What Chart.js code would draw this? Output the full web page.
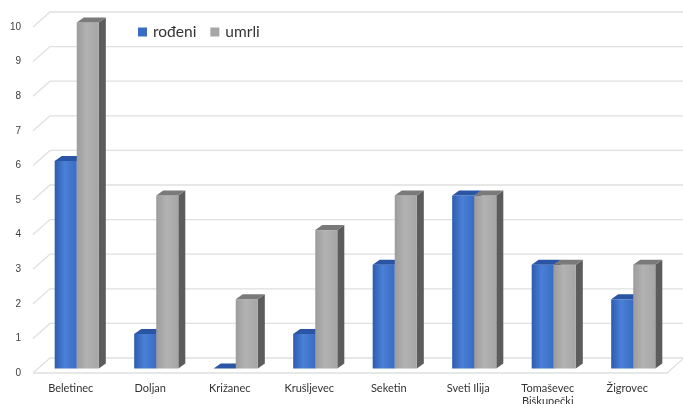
<!DOCTYPE html>
<html>
<head>
<meta charset="utf-8">
<script src="https://cdn.jsdelivr.net/npm/chart.js@4/dist/chart.umd.min.js"></script>
<style>
html,body{margin:0;padding:0;background:#fff;}
#wrap{width:683px;height:404px;position:relative;}
</style>
</head>
<body>
<div id="wrap"><canvas id="c" width="683" height="404"></canvas></div>
<script>
const categories = ["Beletinec", "Doljan", "Križanec", "Krušljevec", "Seketin", "Sveti Ilija", ["Tomaševec", "Biškupečki"], "Žigrovec"];
const rodeni = [6, 1, 0, 1, 3, 5, 3, 2];
const umrli = [10, 5, 2, 4, 5, 5, 3, 3];
const seriesNames = ["rođeni", "umrli"];
const yTicks = [0, 1, 2, 3, 4, 5, 6, 7, 8, 9, 10];

const BAR_OFF = {x: 6, y: -4.5};
const DEPTH = {x: 7, y: -5};
const WALL = {x: 17, y: -15};

const styles = [
  {front: ['#2c5cb0', '#4a80d6', '#3a6cc4'], top: '#2a55a4', side: '#1f4590'},
  {front: ['#9c9c9c', '#b2b2b2', '#a6a6a6'], top: '#7a7a7a', side: '#5c5c5c'}
];

const gridPlugin = {
  id: 'grid3d',
  beforeDatasetsDraw(chart) {
    const ctx = chart.ctx, y = chart.scales.y, a = chart.chartArea;
    ctx.save();
    ctx.strokeStyle = '#e0e0e0';
    ctx.lineWidth = 1.3;
    yTicks.forEach(v => {
      const py = y.getPixelForValue(v);
      ctx.beginPath();
      ctx.moveTo(a.left + 2, py);
      ctx.lineTo(a.left + 2 + WALL.x, py + WALL.y);
      ctx.lineTo(chart.width, py + WALL.y);
      ctx.stroke();
    });
    const p0 = y.getPixelForValue(0);
    ctx.beginPath();
    ctx.moveTo(a.left + 2, p0);
    ctx.lineTo(a.right, p0);
    ctx.lineTo(a.right + WALL.x, p0 + WALL.y);
    ctx.stroke();
    ctx.restore();
  }
};

const bar3dPlugin = {
  id: 'bar3d',
  afterDatasetsDraw(chart) {
    const ctx = chart.ctx;
    const metas = [chart.getDatasetMeta(0), chart.getDatasetMeta(1)];
    ctx.save();
    for (let i = 0; i < categories.length; i++) {
      metas.forEach((meta, di) => {
        const el = meta.data[i];
        const st = styles[di];
        const w = el.width;
        const l = el.x - w / 2 + BAR_OFF.x;
        const r = l + w;
        const t = el.y + BAR_OFF.y;
        const b = el.base + BAR_OFF.y;
        ctx.fillStyle = st.side;
        ctx.beginPath();
        ctx.moveTo(r, b); ctx.lineTo(r, t);
        ctx.lineTo(r + DEPTH.x, t + DEPTH.y); ctx.lineTo(r + DEPTH.x, b + DEPTH.y);
        ctx.closePath(); ctx.fill();
        if (b - t > 0.5) {
          const g = ctx.createLinearGradient(l, 0, r, 0);
          g.addColorStop(0, st.front[0]);
          g.addColorStop(0.45, st.front[1]);
          g.addColorStop(1, st.front[2]);
          ctx.fillStyle = g;
          ctx.fillRect(l, t, w, b - t);
        }
        ctx.fillStyle = st.top;
        ctx.beginPath();
        ctx.moveTo(l, t); ctx.lineTo(r, t);
        ctx.lineTo(r + DEPTH.x, t + DEPTH.y); ctx.lineTo(l + DEPTH.x, t + DEPTH.y);
        ctx.closePath(); ctx.fill();
      });
    }
    ctx.restore();
  }
};

const legendPlugin = {
  id: 'customLegend',
  afterDraw(chart) {
    const ctx = chart.ctx;
    ctx.save();
    ctx.font = '15.5px Lato, "Open Sans", sans-serif';
    ctx.textBaseline = 'middle';
    const cy = 32;
    let x = 138;
    const sqc = ['#3a6cc4', '#a6a6a6'];
    seriesNames.forEach((n, i) => {
      ctx.fillStyle = sqc[i];
      ctx.fillRect(x, cy - 4.5, 9, 9);
      ctx.fillStyle = '#333333';
      ctx.fillText(n, x + 15, cy);
      x += 15 + ctx.measureText(n).width + 14;
    });
    ctx.restore();
  }
};

new Chart(document.getElementById('c'), {
  type: 'bar',
  data: {
    labels: categories,
    datasets: [
      {label: seriesNames[0], data: rodeni, backgroundColor: 'rgba(0,0,0,0)', borderWidth: 0, categoryPercentage: 0.555, barPercentage: 1},
      {label: seriesNames[1], data: umrli, backgroundColor: 'rgba(0,0,0,0)', borderWidth: 0, categoryPercentage: 0.555, barPercentage: 1}
    ]
  },
  options: {
    responsive: false,
    animation: false,
    layout: {padding: {top: 27, right: 16, left: 0, bottom: 0}},
    plugins: {legend: {display: false}, tooltip: {enabled: false}},
    scales: {
      y: {
        min: 0, max: 10,
        ticks: {stepSize: 1, padding: 10, color: '#404040', font: {family: '"Liberation Sans", Arial, sans-serif', size: 10}},
        grid: {display: false, drawTicks: false},
        border: {display: false},
        afterFit(s) { s.width = 31; }
      },
      x: {
        ticks: {padding: 9, color: '#333333', maxRotation: 0, autoSkip: false, font: {family: 'Lato, "Open Sans", sans-serif', size: 11}},
        grid: {display: false, drawTicks: false},
        border: {display: false},
        afterFit(s) { s.height = 31; }
      }
    }
  },
  plugins: [gridPlugin, bar3dPlugin, legendPlugin]
});
</script>
</body>
</html>
